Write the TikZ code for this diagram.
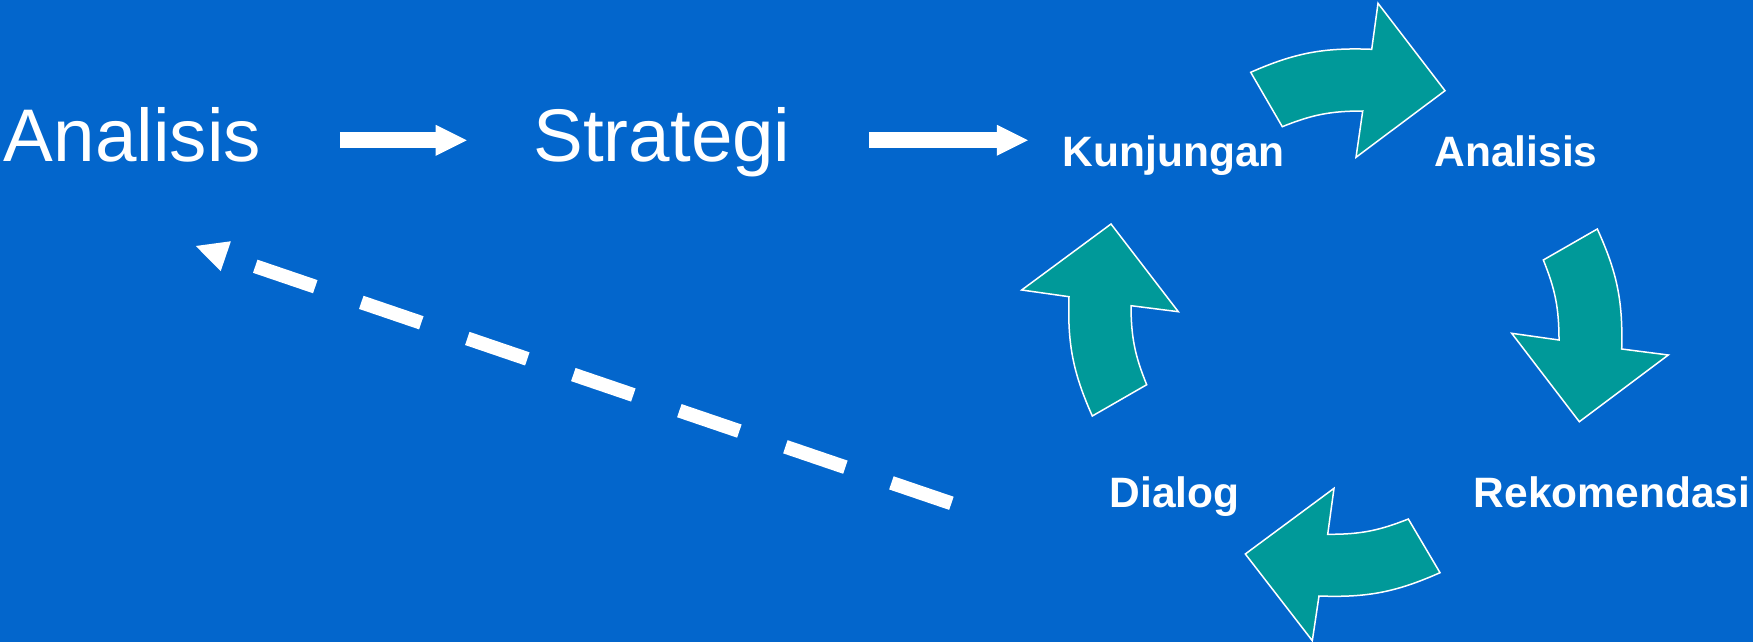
\documentclass[tikz,border=0pt]{standalone}
\usepackage{fontspec}
\setmainfont{Liberation Sans}
\usetikzlibrary{arrows.meta}
\definecolor{bgblue}{RGB}{3,102,204}
\definecolor{cycteal}{RGB}{0,153,153}
\begin{document}
\begin{tikzpicture}[x=1pt,y=-1pt,
  big/.style={font=\fontsize{74.6pt}{80pt}\selectfont, text=white, inner sep=0pt, anchor=base},
  lbl/.style={font=\fontsize{42.5pt}{48pt}\selectfont\bfseries, text=white, inner sep=0pt, anchor=base},
  wa/.style={draw=white, line width=16pt, -{Triangle[length=31pt,width=31pt,line width=0pt]}},
  da/.style={draw=white, line width=13.9pt, dash pattern=on 63.4pt off 48.6pt, -{Triangle[length=31.7pt,width=31.6pt,line width=0pt]}},
  cyc/.style={fill=cycteal, draw=white, line width=1.5pt, line join=miter}]
\fill[bgblue] (0,0) rectangle (1753,642);
\useasboundingbox (0,0) rectangle (1753,642);

% texts
\node[big] (a1) at (132.5,161.7) {Analisis};
\node[big] (s1) at (662,161.7) {Strategi};
\node[lbl] (k) at (1173.7,166.7) {Kunjungan};
\node[lbl] (a2) at (1516,166.7) {Analisis};
\node[lbl] (d) at (1174.7,507.5) {Dialog};
\node[lbl] (r) at (1612,507.5) {Rekomendasi};

% straight arrows
\coordinate (r1) at (0,140.3);
\draw[wa, shorten <=78.6pt, shorten >=66.6pt] (a1.east |- r1) -- (s1.west |- r1);
\draw[wa, shorten <=78.1pt, shorten >=34.7pt] (s1.east |- r1) -- (k.west |- r1);

% dashed return arrow
\coordinate (ds) at (951.4,503.3);
\coordinate (de) at (195.8,246);
\draw[da] (ds) -- (de);

% cycle arrows
\draw[cyc] (1250.7,72.3) to[bend left=13] (1371.7,49.3) -- (1378,3.3) -- (1445,90.7)
  -- (1356,157.3) -- (1362.7,111) to[bend right=11] (1282.3,126.7) -- cycle;
\draw[cyc] (1597.3,229) to[bend left=13] (1621.7,349) -- (1668.3,355) -- (1579.3,421.7)
  -- (1511.7,333.3) -- (1559,340) to[bend right=11] (1543.3,260) -- cycle;
\draw[cyc] (1440,572.7) to[bend left=13] (1319,596) -- (1312.3,640.7) -- (1245.3,554)
  -- (1334,488.3) -- (1327.7,534.3) to[bend right=11] (1408.3,519) -- cycle;
\draw[cyc] (1092.3,416) to[bend left=13] (1069,296.7) -- (1021.7,290) -- (1111,224)
  -- (1178.3,311.7) -- (1131,305.7) to[bend right=11] (1146.7,384.7) -- cycle;
\end{tikzpicture}
\end{document}
